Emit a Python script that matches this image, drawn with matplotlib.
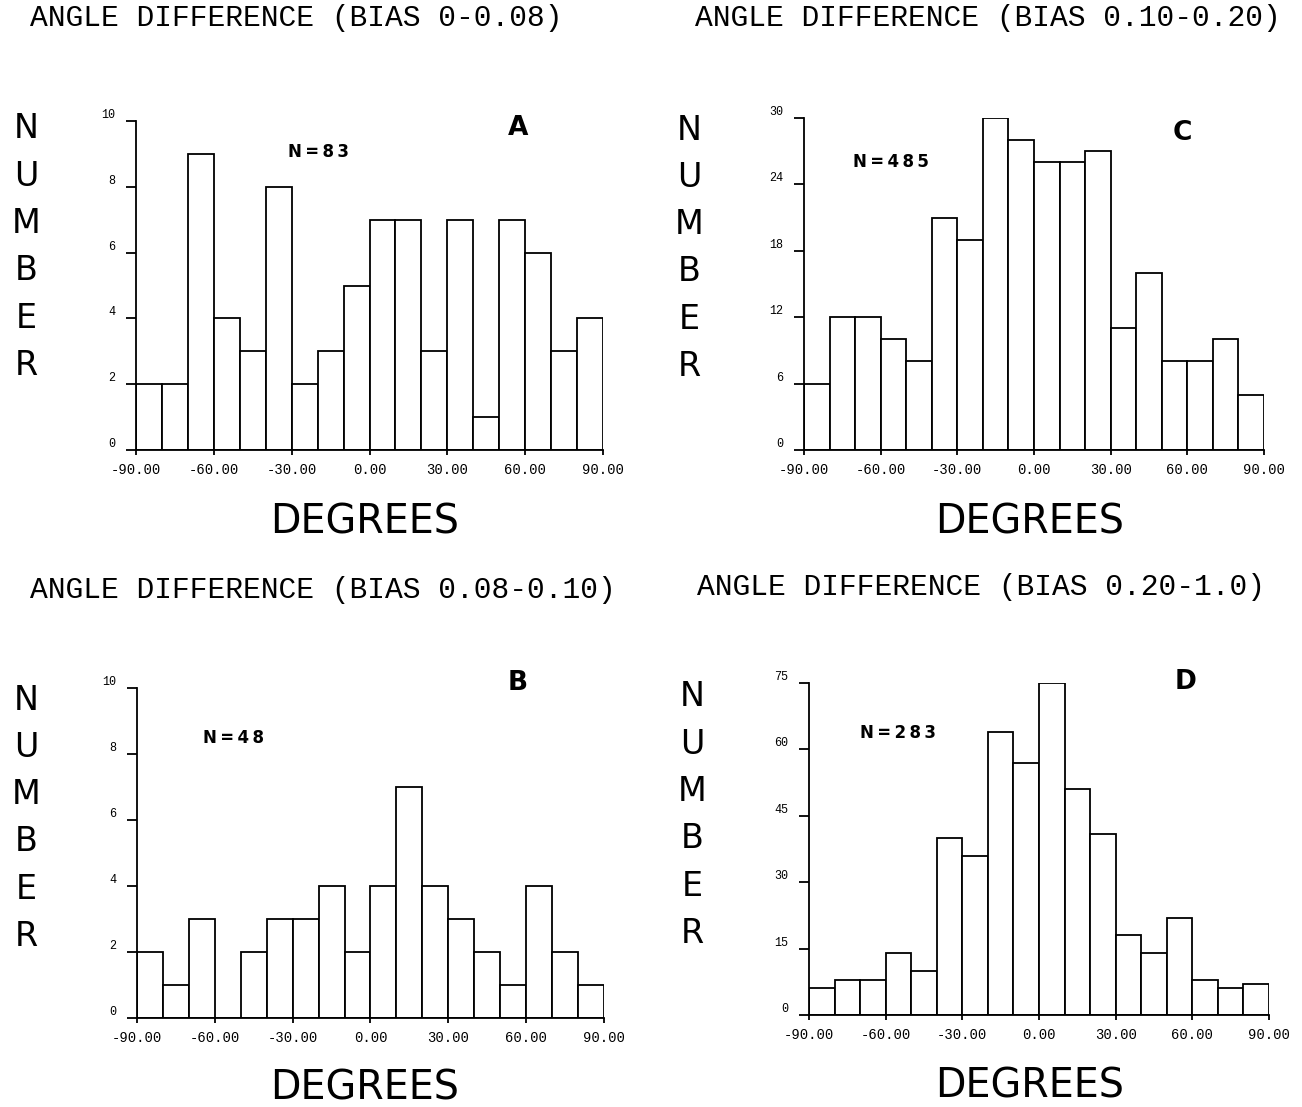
import matplotlib
matplotlib.use("Agg")
import matplotlib.pyplot as plt
import numpy as np

# ---- data ----
bin_edges = list(range(-90, 91, 10))
counts_A = [2, 2, 9, 4, 3, 8, 2, 3, 5, 7, 7, 3, 7, 1, 7, 6, 3, 4]
counts_B = [2, 1, 3, 0, 2, 3, 3, 4, 2, 4, 7, 4, 3, 2, 1, 4, 2, 1]
counts_C = [6, 12, 12, 10, 8, 21, 19, 30, 28, 26, 26, 27, 11, 16, 8, 8, 10, 5]
counts_D = [6, 8, 8, 14, 10, 40, 36, 64, 57, 75, 51, 41, 18, 14, 22, 8, 6, 7]
yticks_A = [0, 2, 4, 6, 8, 10]
yticks_B = [0, 2, 4, 6, 8, 10]
yticks_C = [0, 6, 12, 18, 24, 30]
yticks_D = [0, 15, 30, 45, 60, 75]
xticks = [-90, -60, -30, 0, 30, 60, 90]
xtick_labels = ["-90.00", "-60.00", "-30.00", "0.00", "30.00", "60.00", "90.00"]
titles = ["ANGLE DIFFERENCE (BIAS 0-0.08)", "ANGLE DIFFERENCE (BIAS 0.08-0.10)",
          "ANGLE DIFFERENCE (BIAS 0.10-0.20)", "ANGLE DIFFERENCE (BIAS 0.20-1.0)"]
panel_letters = ["A", "B", "C", "D"]
n_labels = [83, 48, 485, 283]
ylabel_text = "NUMBER"
xlabel_text = "DEGREES"

W, H = 1302, 1107
fig = plt.figure(figsize=(W / 100, H / 100), dpi=100)
fig.patch.set_facecolor("white")

def fx(px):
    return px / W

def fy(py):
    return 1 - py / H

MONO = ["Liberation Mono", "DejaVu Sans Mono"]

# axes boxes in pixels: left, top, right, bottom
boxes = {
    "A": (136, 121, 603, 450),
    "B": (137, 688, 604, 1018),
    "C": (804, 118, 1264, 450),
    "D": (809, 683, 1269, 1015),
}
panel_data = {"A": (counts_A, yticks_A), "B": (counts_B, yticks_B),
              "C": (counts_C, yticks_C), "D": (counts_D, yticks_D)}

# text layout (pixels)
title_pos = {"A": (30, 18), "B": (30, 590), "C": (695, 18), "D": (697, 587)}
letter_pos = {"A": (518, 128), "B": (518, 683), "C": (1182, 133), "D": (1186, 682)}
n_pos = {"A": (288, 152), "B": (203, 738), "C": (853, 162), "D": (860, 733)}
number_pos = {"A": (26, 129), "B": (26, 700), "C": (689, 130), "D": (692, 697)}
degrees_pos = {"A": (365, 522), "B": (365, 1088), "C": (1030, 522), "D": (1030, 1086)}

lw = 1.3
for i, key in enumerate(["A", "B", "C", "D"]):
    l, t, r, b = boxes[key]
    ax = fig.add_axes([fx(l), fy(b), fx(r) - fx(l), (b - t) / H])
    counts, yt = panel_data[key]
    ax.bar(bin_edges[:-1], counts, width=10, align="edge", color="white",
           edgecolor="black", linewidth=lw)
    ax.set_xlim(-90, 90)
    ax.set_ylim(0, yt[-1])
    for s in ["top", "right"]:
        ax.spines[s].set_visible(False)
    for s in ["left", "bottom"]:
        ax.spines[s].set_linewidth(lw)
    ax.set_xticks(xticks)
    ax.set_xticklabels(xtick_labels, family=MONO, fontsize=10)
    ax.set_yticks(yt)
    ax.set_yticklabels([str(v) for v in yt], family=MONO, fontsize=8.5)
    ax.tick_params(axis="x", direction="out", length=3.6, width=lw, pad=6)
    ax.tick_params(axis="y", direction="out", length=7, width=lw, pad=8)
    for lab in ax.get_yticklabels():
        lab.set_va("bottom")

    # title
    tx, ty = title_pos[key]
    titl = titles[["A", "B", "C", "D"].index(key)]
    fig.text(fx(tx), fy(ty), titl, family=MONO, fontsize=21.3, ha="left", va="center")
    # panel letter
    lx, ly = letter_pos[key]
    fig.text(fx(lx), fy(ly), panel_letters[i], family="DejaVu Sans", fontweight="bold",
             fontsize=19, ha="center", va="center")
    # N label
    nx, ny = n_pos[key]
    ntxt = "\u2009".join("N=" + str(n_labels[i]))
    fig.text(fx(nx), fy(ny), ntxt, family="DejaVu Sans", fontweight="bold",
             fontsize=12, ha="left", va="center")
    # vertical NUMBER
    vx, vy = number_pos[key]
    for k, ch in enumerate(ylabel_text):
        fig.text(fx(vx), fy(vy + k * 47.3), ch, family="DejaVu Sans", fontsize=24,
                 ha="center", va="center")
    # DEGREES
    dx, dy = degrees_pos[key]
    fig.text(fx(dx), fy(dy), xlabel_text, family="DejaVu Sans", fontsize=28.5,
             ha="center", va="center")

fig.savefig("out.png", dpi=100, facecolor="white")
